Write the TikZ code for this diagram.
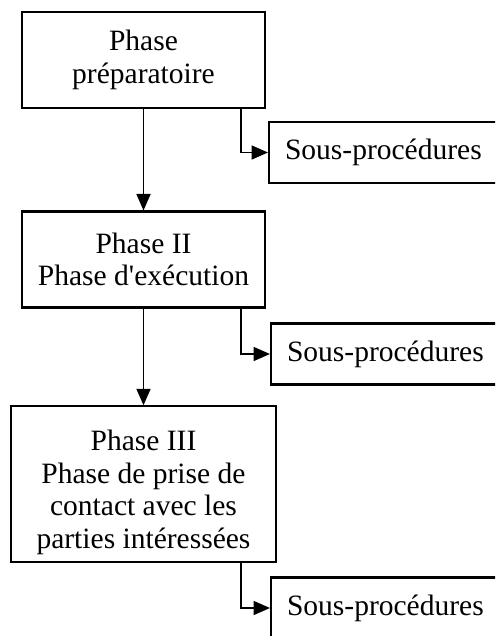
\documentclass[tikz,border=0pt]{standalone}
\usepackage{fontspec}
\setmainfont{Liberation Serif}[Ligatures=TeXOff]
\usetikzlibrary{arrows.meta, positioning}
\tikzset{
  every picture/.style={line width=1.2pt},
  box/.style={draw, rectangle, align=center, inner sep=4pt, font=\fontsize{16.8}{18.5}\selectfont},
  phase/.style={box, minimum width=4.86cm, minimum height=1.92cm},
  sub/.style={box, anchor=west, text width=5cm, align=left, inner xsep=0.32cm, minimum height=1.22cm},
  arrow/.style={-{Triangle[length=3.3mm, width=2.8mm]}, line width=1pt},
}
\begin{document}
\begin{tikzpicture}[x=0.02cm, y=-0.02cm]
  \useasboundingbox (0,0) rectangle (495,636);
  \clip (0,0) rectangle (495,636);
  % the three phases
  \node[phase] (p1) at (143.5,60) {Phase\\préparatoire};
  \node[phase] (p2) at (143.5,259.5) {Phase II\\Phase d'exécution};
  \node[phase, minimum width=5.3cm, minimum height=3.04cm] (p3) at (143.5,484)
    {\rule{0pt}{0.75cm}Phase III\\Phase de prise de\\contact avec les\\parties intéressées};
  % sub-procedures, cut at the page edge
  \node[sub] (s1) at (268,152.5) {Sous-procédures};
  \node[sub] (s2) at (270,354) {Sous-procédures};
  \node[sub] (s3) at (270,608) {Sous-procédures};
  \draw[arrow] (p1) -- (p2);
  \draw[arrow] (p2) -- (p3);
  \draw[arrow] ([xshift=-0.5cm]p1.south east) |- (s1.west);
  \draw[arrow] ([xshift=-0.5cm]p2.south east) |- (s2.west);
  \draw[arrow] ([xshift=-0.72cm]p3.south east) |- (s3.west);
\end{tikzpicture}
\end{document}
